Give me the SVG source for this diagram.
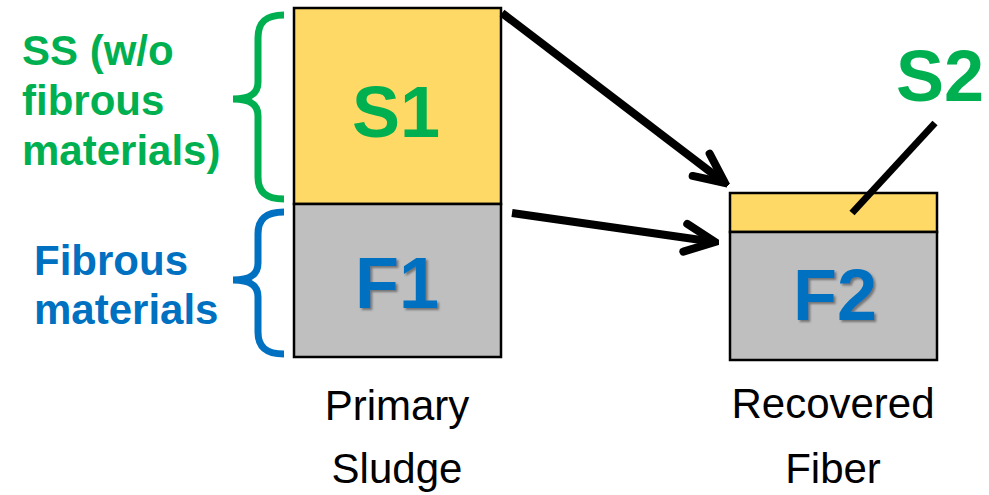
<svg xmlns="http://www.w3.org/2000/svg" width="989" height="495" viewBox="0 0 989 495">
  <defs>
    <style>
      .box { stroke: #000; stroke-width: 2.5; }
      .ss { fill: #FFD966; }
      .fib { fill: #BFBFBF; }
      .big { font-family: "Liberation Sans", Arial, sans-serif; font-weight: bold; font-size: 72px; text-anchor: middle; }
      .lbl { font-family: "Liberation Sans", Arial, sans-serif; font-weight: bold; font-size: 42px; }
      .cap { font-family: "Liberation Sans", Arial, sans-serif; font-size: 42px; text-anchor: middle; fill: #000; }
      .green { fill: #00B050; }
      .blue { fill: #0070C0; }
      .brace { fill: none; stroke-width: 7; stroke-linecap: butt; }
      .arrow { fill: none; stroke: #000; stroke-width: 8; }
    </style>
    <marker id="chev" markerUnits="userSpaceOnUse" markerWidth="40" markerHeight="40" viewBox="-36 -20 40 40" refX="0" refY="0" orient="auto">
      <path d="M-30,-14 L0,0 L-30,14" fill="none" stroke="#000" stroke-width="8" stroke-linecap="round" stroke-linejoin="miter"/>
    </marker>
    <filter id="shadow" x="-20%" y="-20%" width="140%" height="140%">
      <feDropShadow dx="2" dy="2" stdDeviation="1" flood-color="#404040" flood-opacity="0.6"/>
    </filter>
  </defs>
  <rect width="989" height="495" fill="#fff"/>

  <g id="primary-sludge">
    <rect class="box ss" x="294" y="8" width="207" height="196"/>
    <rect class="box fib" x="294" y="204" width="207" height="153"/>
    <text class="big green" x="396" y="137">S1</text>
    <text class="big blue" x="397" y="308" filter="url(#shadow)">F1</text>
    <text class="cap" x="397" y="420">Primary</text>
    <text class="cap" x="397" y="483">Sludge</text>
  </g>

  <g id="recovered-fiber">
    <rect class="box ss" x="730" y="193" width="207" height="39"/>
    <rect class="box fib" x="730" y="232" width="207" height="128"/>
    <text class="big blue" x="835" y="320" filter="url(#shadow)">F2</text>
    <text class="cap" x="833" y="418">Recovered</text>
    <text class="cap" x="833" y="483">Fiber</text>
  </g>

  <g id="s2-label">
    <text class="big green" x="940" y="101">S2</text>
    <line x1="935" y1="123" x2="852" y2="213" stroke="#000" stroke-width="7"/>
  </g>

  <g id="ss-label">
    <path class="brace" stroke="#00B050" d="M284,15 C266,15 258,22 258,38 L258,82 C258,93 251,99 233,99 C251,99 258,105 258,116 L258,177 C258,192 266,199 284,199"/>
    <text class="lbl green" x="22" y="65">SS (w/o</text>
    <text class="lbl green" x="22" y="115">fibrous</text>
    <text class="lbl green" x="22" y="165">materials)</text>
  </g>

  <g id="fibrous-label">
    <path class="brace" stroke="#0070C0" d="M284,212 C266,212 258,219 258,234 L258,263 C258,274 251,280 233,280 C251,280 258,286 258,297 L258,332 C258,347 266,354 284,354"/>
    <text class="lbl blue" x="34" y="275">Fibrous</text>
    <text class="lbl blue" x="34" y="324">materials</text>
  </g>

  <g id="connectors">
    <line class="arrow" x1="502" y1="13" x2="725" y2="183" marker-end="url(#chev)"/>
    <line class="arrow" x1="512" y1="213" x2="715" y2="242" marker-end="url(#chev)"/>
  </g>
</svg>
